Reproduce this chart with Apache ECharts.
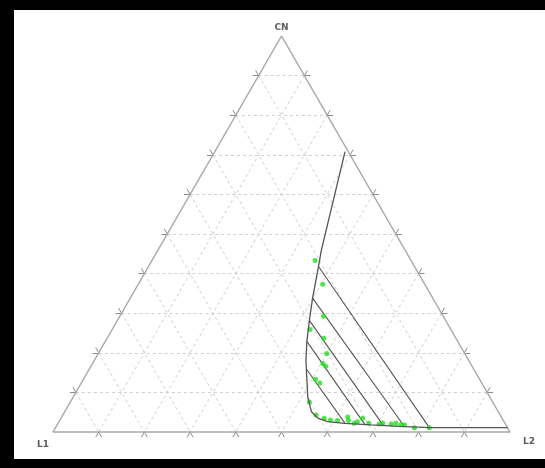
<!DOCTYPE html>
<html>
<head>
<meta charset="utf-8">
<script src="https://cdn.jsdelivr.net/npm/echarts@6/dist/echarts.min.js"></script>
<style>
html,body{margin:0;padding:0;background:#fff;}
#chart{width:545px;height:468px;}
</style>
</head>
<body>
<div id="chart"></div>
<script>
// Ternary data: each entry is [CN, L1, L2] in percent
const vertexLabels = ['CN', 'L1', 'L2'];
const gridSteps = [10, 20, 30, 40, 50, 60, 70, 80, 90];

const binodalCurve = [
  [70.8, 0.7, 28.5],
  [45.8, 18.4, 35.8],
  [41.8, 21.0, 37.2],
  [33.8, 26.3, 39.9],
  [28.2, 29.8, 42.0],
  [22.9, 33.0, 44.1],
  [18.1, 35.6, 46.3],
  [14.4, 37.3, 48.3],
  [8.9, 39.8, 51.3],
  [5.1, 40.9, 54.0],
  [3.5, 40.3, 56.2],
  [2.6, 38.6, 58.8],
  [2.2, 35.1, 62.7],
  [1.8, 29.5, 68.7],
  [1.4, 23.5, 75.1],
  [1.1, 17.1, 81.8],
  [1.1, 8.4, 90.5],
  [1.1, 0.0, 98.9]
];

const tieLeft = [
  [41.8, 21.0, 37.2],
  [33.8, 26.3, 39.9],
  [28.2, 29.8, 42.0],
  [22.9, 33.0, 44.1],
  [15.9, 36.6, 47.5]
];
const tieRight = [
  [1.1, 17.1, 81.8],
  [1.4, 22.4, 76.2],
  [1.6, 26.9, 71.5],
  [1.8, 30.8, 67.4],
  [2.1, 35.0, 62.9]
];

const experimentalPoints = [
  [43.3, 21.0, 35.7], [37.3, 22.3, 40.4], [29.2, 26.2, 44.6], [25.9, 30.8, 43.3],
  [23.7, 28.9, 47.4], [19.8, 30.2, 50.0], [17.3, 32.3, 50.4], [16.6, 32.0, 51.4],
  [13.3, 35.9, 50.8], [12.4, 35.4, 52.2], [7.6, 40.1, 52.3], [4.3, 40.3, 55.4],
  [3.5, 38.9, 57.6], [3.0, 37.8, 59.2], [2.9, 36.3, 60.8], [3.8, 33.6, 62.6],
  [2.9, 33.9, 63.2], [2.2, 33.0, 64.8], [2.6, 32.1, 65.3], [3.5, 30.5, 66.0],
  [2.2, 29.8, 68.0], [2.0, 27.6, 70.4], [2.3, 26.7, 71.0], [2.0, 25.0, 73.0],
  [2.2, 23.9, 73.9], [1.8, 23.0, 75.2], [1.8, 22.2, 76.0], [1.1, 20.4, 78.5],
  [1.1, 17.1, 81.8]
];

const S3 = Math.sqrt(3) / 2;
function toXY(t) {
  const cn = t[0] / 100, l2 = t[2] / 100;
  return [l2 + cn / 2, cn * S3];
}

// Grid lines (dashed) and edge ticks
const gridLines = [];
const tickLines = [];
const ext = 1.3;
gridSteps.forEach(k => {
  gridLines.push({coords: [toXY([k, 100 - k, 0]), toXY([k, 0, 100 - k])]});
  gridLines.push({coords: [toXY([100 - k, k, 0]), toXY([0, k, 100 - k])]});
  gridLines.push({coords: [toXY([100 - k, 0, k]), toXY([0, 100 - k, k])]});
  tickLines.push({coords: [toXY([k, 100 - k, 0]), toXY([k, 100 - k + ext, -ext])]});
  tickLines.push({coords: [toXY([k, 0, 100 - k]), toXY([k, -ext, 100 - k + ext])]});
  tickLines.push({coords: [toXY([100 - k, k, 0]), toXY([100 - k + ext, k, -ext])]});
  tickLines.push({coords: [toXY([0, k, 100 - k]), toXY([-ext, k, 100 - k + ext])]});
  tickLines.push({coords: [toXY([100 - k, 0, k]), toXY([100 - k + ext, -ext, k])]});
  tickLines.push({coords: [toXY([0, 100 - k, k]), toXY([-ext, 100 - k + ext, k])]});
});

const outline = [[100, 0, 0], [0, 100, 0], [0, 0, 100], [100, 0, 0]].map(toXY);
const ties = tieLeft.map((p, i) => ({coords: [toXY(p), toXY(tieRight[i])]}));

const chart = echarts.init(document.getElementById('chart'));
chart.setOption({
  animation: false,
  backgroundColor: '#fff',
  grid: {left: 53, right: 35, top: 36, bottom: 36},
  xAxis: {type: 'value', min: 0, max: 1, show: false},
  yAxis: {type: 'value', min: 0, max: S3, show: false},
  graphic: [
    {type: 'rect', shape: {x: 0, y: 0, width: 545, height: 10}, style: {fill: '#000'}},
    {type: 'rect', shape: {x: 0, y: 0, width: 14, height: 468}, style: {fill: '#000'}},
    {type: 'rect', shape: {x: 0, y: 459, width: 545, height: 9}, style: {fill: '#000'}}
  ],
  series: [
    {type: 'lines', coordinateSystem: 'cartesian2d', data: gridLines, silent: true, clip: false,
     lineStyle: {color: '#cfcfcf', width: 1, type: [3, 3], opacity: 1}},
    {type: 'lines', coordinateSystem: 'cartesian2d', data: tickLines, silent: true, clip: false,
     lineStyle: {color: '#8a8a8a', width: 1, opacity: 1}},
    {type: 'line', data: outline, symbol: 'none', clip: false, silent: true,
     lineStyle: {color: '#a8a8a8', width: 1.5}},
    {type: 'lines', coordinateSystem: 'cartesian2d', data: ties, silent: true, clip: false,
     lineStyle: {color: '#555', width: 1.1, opacity: 1}},
    {type: 'line', data: binodalCurve.map(toXY), symbol: 'none', clip: false, silent: true,
     lineStyle: {color: '#555', width: 1.3}},
    {type: 'scatter', data: experimentalPoints.map(toXY), symbolSize: 5, clip: false,
     itemStyle: {color: '#22dd22'}},
    {type: 'scatter', symbolSize: 0, clip: false, silent: true,
     data: [
       {value: toXY([100, 0, 0]), label: {show: true, formatter: vertexLabels[0], position: 'top', offset: [0, 1]}},
       {value: toXY([0, 100, 0]), label: {show: true, formatter: vertexLabels[1], position: 'bottom', offset: [-10, 3]}},
       {value: toXY([0, 0, 100]), label: {show: true, formatter: vertexLabels[2], position: 'bottom', offset: [19, 0]}}
     ],
     label: {color: '#333', fontSize: 9, fontFamily: 'DejaVu Sans', fontWeight: 'bold'}}
  ]
});
</script>
</body>
</html>
